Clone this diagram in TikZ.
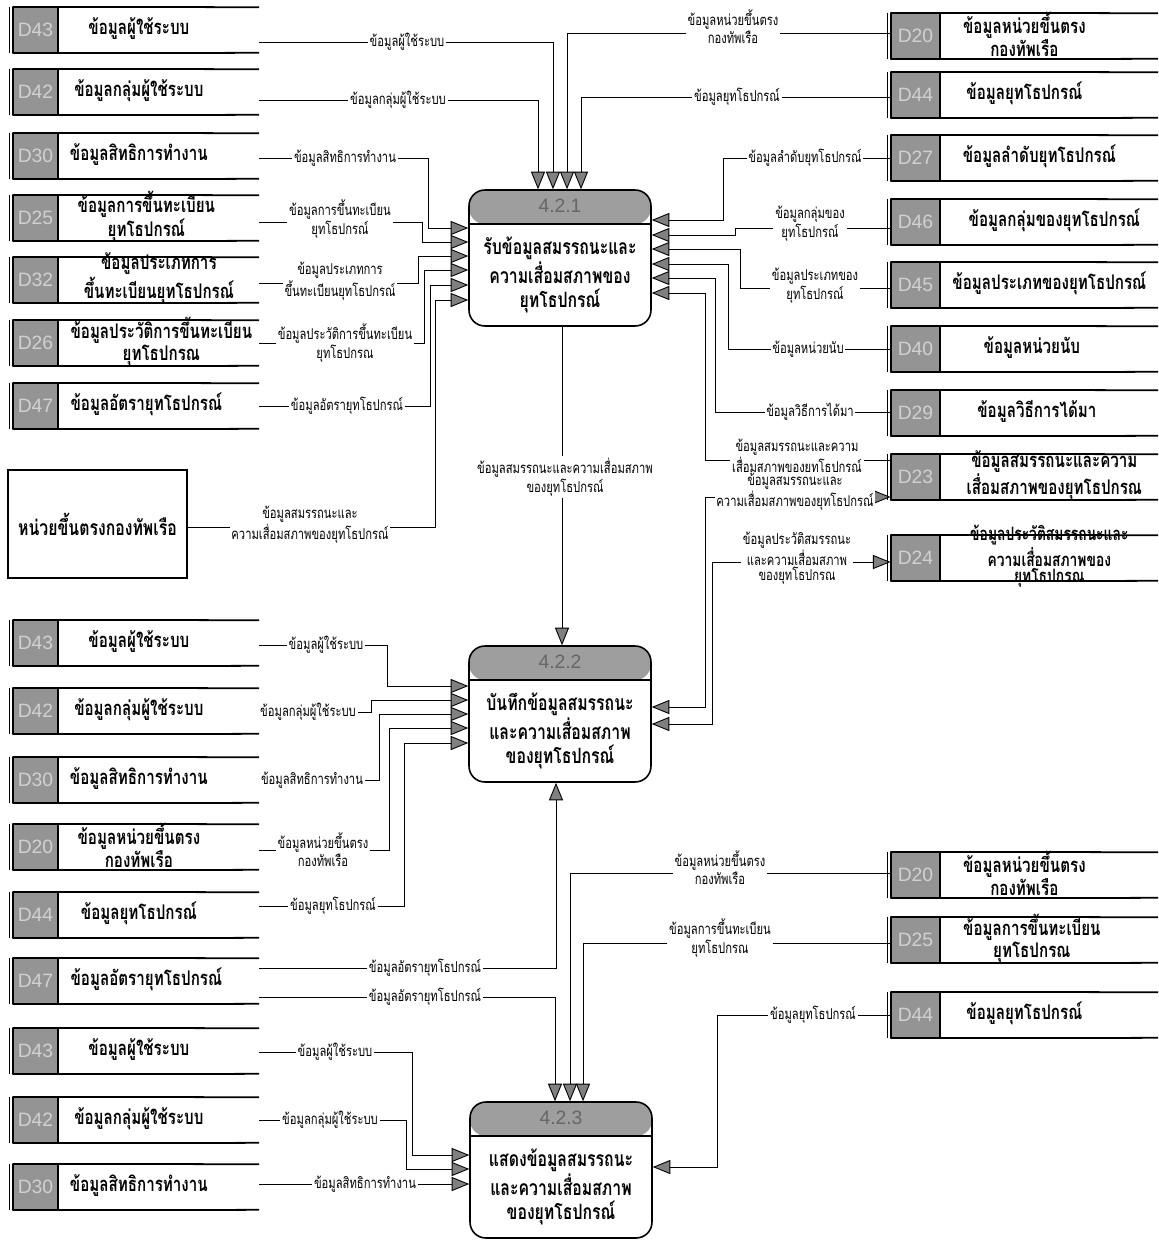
\documentclass[tikz,border=0pt]{standalone}
\usepackage{fontspec}
\setsansfont{Liberation Sans}
\newfontfamily\thaifont[Script=Thai,FakeStretch=0.75]{Loma}
\usetikzlibrary{positioning,calc,arrows.meta}

\tikzset{
  sid/.style={draw, line width=0.6pt, fill=black!42, minimum height=0.9cm, inner sep=0pt,
    font=\sffamily\fontsize{11}{11}\selectfont, text=black!18},
  sframe/.style={minimum height=0.9cm, inner sep=0pt},
  stext/.style={font=\thaifont\bfseries\fontsize{11.5}{9.5}\selectfont, align=center, inner sep=0pt, yshift=1pt},
  flab/.style={fill=white, inner sep=1pt, align=center, font=\thaifont\fontsize{8.5}{8.5}\selectfont},
  >={Triangle[length=10pt,width=8pt,fill=black!50]},
  flow/.style={draw, line width=0.5pt, ->},
  dflow/.style={draw, line width=0.5pt, <->},
  proc/.style={draw, line width=0.9pt, rounded corners=9pt, minimum width=3.64cm, minimum height=2.72cm,
    path picture={
      \fill[black!38] (path picture bounding box.north west) rectangle ([yshift=-0.68cm]path picture bounding box.north east);
      \draw[line width=0.9pt] ([yshift=-0.68cm]path picture bounding box.north west) -- ([yshift=-0.68cm]path picture bounding box.north east);}},
  pnum/.style={font=\sffamily\fontsize{11}{11}\selectfont, text=black!60},
  ptext/.style={font=\thaifont\bfseries\fontsize{12}{14}\selectfont, align=center},
  entity/.style={draw, line width=1pt, minimum width=3.58cm, minimum height=2.16cm,
    font=\thaifont\bfseries\fontsize{12}{14}\selectfont}
}

% data store: name, id centre, id width, frame width, id, text, text options
\newcommand{\dstore}[7]{%
  \node[sid, minimum width=#3] (#1i) at (#2) {#5};
  \node[sframe, minimum width=#4, right=0pt of #1i] (#1) {};
  \node[stext, #7] (#1t) at (#1.center) {#6};
  \draw[line width=1pt] (#1i.north west) -- (#1.north east) (#1i.south west) -- (#1.south east);
  \draw[line width=0.5pt] ([xshift=-2pt]#1i.north west) -- ([xshift=-2pt]#1i.south west);
}
\newcommand{\lstore}[5][xshift=-0.4cm]{\dstore{#2}{#3}{0.9cm}{4cm}{#4}{#5}{#1}}
\newcommand{\rstore}[5][xshift=-0.4cm]{\dstore{#2}{#3}{0.98cm}{4.34cm}{#4}{#5}{#1}}

% process: name, centre, number, text
\newcommand{\dfdproc}[4]{%
  \node[proc] (#1) at (#2) {};
  \node[pnum] (#1n) at ([yshift=-0.34cm]#1.north) {#3};
  \node[ptext] (#1t) at ([yshift=-0.34cm]#1.center) {#4};
}

\begin{document}
\begin{tikzpicture}[x=0.02cm, y=-0.02cm]
\useasboundingbox (0,0) rectangle (1159,1242);

% stores left, upper group
\lstore{a43}{35.5,30}{D43}{ข้อมูลผู้ใช้ระบบ}
\lstore{a42}{35.5,92}{D42}{ข้อมูลกลุ่มผู้ใช้ระบบ}
\lstore{a30}{35.5,156}{D30}{ข้อมูลสิทธิการทำงาน}
\lstore[xshift=-0.25cm]{a25}{35.5,218}{D25}{ข้อมูลการขึ้นทะเบียน\\ยุทโธปกรณ์}
\lstore[xshift=0cm]{a32}{35.5,280}{D32}{ข้อมูลประเภทการ\\ขึ้นทะเบียนยุทโธปกรณ์}
\lstore[xshift=0.05cm]{a26}{35.5,343}{D26}{ข้อมูลประวัติการขึ้นทะเบียน\\ยุทโธปกรณ}
\lstore[xshift=-0.25cm]{a47}{35.5,406}{D47}{ข้อมูลอัตรายุทโธปกรณ์}

\node[entity] (ent) at (97.5,524) {หน่วยขึ้นตรงกองทัพเรือ};

% stores right, upper group
\rstore[xshift=-0.5cm]{b20}{915.5,36}{D20}{ข้อมูลหน่วยขึ้นตรง\\กองทัพเรือ}
\rstore[xshift=-0.5cm]{b44}{915.5,95}{D44}{ข้อมูลยุทโธปกรณ์}
\rstore[xshift=-0.2cm]{b27}{915.5,158}{D27}{ข้อมูลลำดับยุทโธปกรณ์}
\rstore[xshift=0.1cm]{b46}{915.5,222}{D46}{ข้อมูลกลุ่มของยุทโธปกรณ์}
\rstore[xshift=0cm]{b45}{915.5,285}{D45}{ข้อมูลประเภทของยุทโธปกรณ์}
\rstore[xshift=-0.35cm]{b40}{915.5,349}{D40}{ข้อมูลหน่วยนับ}
\rstore[xshift=-0.25cm]{b29}{915.5,413}{D29}{ข้อมูลวิธีการได้มา}
\rstore[xshift=0.1cm]{b23}{915.5,477}{D23}{ข้อมูลสมรรถนะและความ\\เสื่อมสภาพของยุทโธปกรณ}
\rstore[font=\thaifont\bfseries\fontsize{10.5}{8}\selectfont]{b24}{915.5,558}{D24}{ข้อมูลประวัติสมรรถนะและ\\ความเสื่อมสภาพของ\\ยุทโธปกรณ}

% stores left, lower group
\lstore{c43}{35.5,643}{D43}{ข้อมูลผู้ใช้ระบบ}
\lstore{c42}{35.5,711}{D42}{ข้อมูลกลุ่มผู้ใช้ระบบ}
\lstore{c30}{35.5,780}{D30}{ข้อมูลสิทธิการทำงาน}
\lstore{c20}{35.5,847}{D20}{ข้อมูลหน่วยขึ้นตรง\\กองทัพเรือ}
\lstore{c44}{35.5,915}{D44}{ข้อมูลยุทโธปกรณ์}
\lstore[xshift=-0.25cm]{c47}{35.5,981}{D47}{ข้อมูลอัตรายุทโธปกรณ์}
\lstore{d43}{35.5,1051}{D43}{ข้อมูลผู้ใช้ระบบ}
\lstore{d42}{35.5,1120}{D42}{ข้อมูลกลุ่มผู้ใช้ระบบ}
\lstore{d30}{35.5,1187}{D30}{ข้อมูลสิทธิการทำงาน}

% stores right, lower group
\rstore[xshift=-0.5cm]{e20}{915.5,875}{D20}{ข้อมูลหน่วยขึ้นตรง\\กองทัพเรือ}
\rstore[xshift=-0.35cm]{e25}{915.5,940}{D25}{ข้อมูลการขึ้นทะเบียน\\ยุทโธปกรณ}
\rstore[xshift=-0.5cm]{e44}{915.5,1015}{D44}{ข้อมูลยุทโธปกรณ์}

% processes
\dfdproc{p1}{560,258}{4.2.1}{รับข้อมูลสมรรถนะและ\\ความเสื่อมสภาพของ\\ยุทโธปกรณ์}
\dfdproc{p2}{560,714}{4.2.2}{บันทึกข้อมูลสมรรถนะ\\และความเสื่อมสภาพ\\ของยุทโธปกรณ์}
\dfdproc{p3}{561,1170}{4.2.3}{แสดงข้อมูลสมรรถนะ\\และความเสื่อมสภาพ\\ของยุทโธปกรณ์}

% ports
\foreach \i/\d in {1/-22,2/-7,3/7,4/21} \coordinate (p1n\i) at ($(p1.north)+(\d,0)$);
\foreach \i/\d in {1/-30,2/-16,3/-2,4/12,5/27,6/42} \coordinate (p1w\i) at ($(p1.west)+(0,\d)$);
\foreach \i/\d in {1/-38,2/-23,3/-9,4/6,5/20,6/35} \coordinate (p1e\i) at ($(p1.east)+(0,\d)$);
\coordinate (p1s) at ($(p1.south)+(2,0)$);
\coordinate (p2n) at ($(p2.north)+(2,0)$);
\foreach \i/\d in {1/-28,2/-14,3/0,4/14,5/29} \coordinate (p2w\i) at ($(p2.west)+(0,\d)$);
\foreach \i/\d in {1/-7,2/10} \coordinate (p2e\i) at ($(p2.east)+(0,\d)$);
\coordinate (p2s) at ($(p2.south)+(-4,0)$);
\foreach \i/\d in {1/-6,2/9,3/22} \coordinate (p3n\i) at ($(p3.north)+(\d,0)$);
\foreach \i/\d in {1/-15,2/-1,3/14} \coordinate (p3w\i) at ($(p3.west)+(0,\d)$);
\coordinate (p3e1) at ($(p3.east)+(0,-3)$);

% into 4.2.1, top
\draw[flow] ($(a43.east)+(0,12)$) -| (p1n2);
\node[flab] (f1) at (407,42) {ข้อมูลผู้ใช้ระบบ};
\draw[flow] ($(a42.east)+(0,8)$) -| (p1n1);
\node[flab] (f2) at (398,100) {ข้อมูลกลุ่มผู้ใช้ระบบ};
\draw[flow] ($(b20i.west)+(0,-3)$) -| (p1n3);
\node[flab] (f3) at (733,27) {ข้อมูลหน่วยขึ้นตรง\\กองทัพเรือ};
\draw[flow] ($(b44i.west)+(0,2)$) -| (p1n4);
\node[flab] (f4) at (737,97) {ข้อมูลยุทโธปกรณ์};

% into 4.2.1, left
\draw[flow] ($(a30.east)+(0,2)$) -| ($(p1w1)+(-40,0)$) -- (p1w1);
\node[flab] (f5) at (345,158) {ข้อมูลสิทธิการทำงาน};
\draw[flow] ($(a25.east)+(0,4)$) -| ($(p1w2)+(-46,0)$) -- (p1w2);
\node[flab] (f6) at (340,219) {ข้อมูลการขึ้นทะเบียน\\ยุทโธปกรณ์};
\draw[flow] ($(a32.east)+(0,3)$) -| ($(p1w3)+(-50,0)$) -- (p1w3);
\node[flab] (f7) at (340,281) {ข้อมูลประเภทการ\\ขึ้นทะเบียนยุทโธปกรณ์};
\draw[flow] (a26.east) -| ($(p1w4)+(-44,0)$) -- (p1w4);
\node[flab] (f8) at (345,343) {ข้อมูลประวัติการขึ้นทะเบียน\\ยุทโธปกรณ};
\draw[flow] (a47.east) -| ($(p1w5)+(-38,0)$) -- (p1w5);
\node[flab] (f9) at (347,406) {ข้อมูลอัตรายุทโธปกรณ์};
\draw[flow] ($(ent.east)+(0,3)$) -| ($(p1w6)+(-33,0)$) -- (p1w6);
\node[flab] (f10) at (310,525) {ข้อมูลสมรรถนะและ\\ความเสื่อมสภาพของยุทโธปกรณ์};

% into 4.2.1, right
\draw[flow] (b27i.west) -| ($(p1e1)+(72,0)$) -- (p1e1);
\node[flab] (f11) at (805,158) {ข้อมูลลำดับยุทโธปกรณ์};
\draw[flow] ($(b46i.west)+(0,6)$) -| ($(p1e2)+(84,0)$) -- (p1e2);
\node[flab] (f12) at (810,224) {ข้อมูลกลุ่มของ\\ยุทโธปกรณ์};
\draw[flow] ($(b45i.west)+(0,3)$) -| ($(p1e3)+(89,0)$) -- (p1e3);
\node[flab] (f13) at (815,286) {ข้อมูลประเภทของ\\ยุทโธปกรณ์};
\draw[flow] (b40i.west) -| ($(p1e4)+(77,0)$) -- (p1e4);
\node[flab] (f14) at (808,349) {ข้อมูลหน่วยนับ};
\draw[flow] ($(b29i.west)+(0,-1)$) -| ($(p1e5)+(64,0)$) -- (p1e5);
\node[flab] (f15) at (810,412) {ข้อมูลวิธีการได้มา};
\draw[flow] ($(b23i.west)+(0,-17)$) -| ($(p1e6)+(54,0)$) -- (p1e6);
\node[flab] (f16) at (797,458) {ข้อมูลสมรรถนะและความ\\เสื่อมสภาพของยุทโธปกรณ์};

% 4.2.1 to 4.2.2
\draw[flow] (p1s) -- (p2n);
\node[flab] (f17) at (565,477) {ข้อมูลสมรรถนะและความเสื่อมสภาพ\\ของยุทโธปกรณ์};

% 4.2.2 to D23 and D24
\draw[dflow] (p2e1) -- ($(p2e1)+(54,0)$) |- ($(b23i.west)+(0,20)$);
\node[flab] (f18) at (795,492) {ข้อมูลสมรรถนะและ\\ความเสื่อมสภาพของยุทโธปกรณ์};
\draw[dflow] (p2e2) -- ($(p2e2)+(61,0)$) |- ($(b24i.west)+(0,4)$);
\node[flab] (f19) at (797,558) {ข้อมูลประวัติสมรรถนะ\\และความเสื่อมสภาพ\\ของยุทโธปกรณ};

% into 4.2.2, left
\draw[flow] ($(c43.east)+(0,2)$) -| ($(p2w1)+(-81,0)$) -- (p2w1);
\node[flab] (f20) at (326,645) {ข้อมูลผู้ใช้ระบบ};
\draw[flow] ($(c42.east)+(0,1)$) -| ($(p2w2)+(-97,0)$) -- (p2w2);
\node[flab] (f21) at (308,712) {ข้อมูลกลุ่มผู้ใช้ระบบ};
\draw[flow] (c30.east) -| ($(p2w3)+(-89,0)$) -- (p2w3);
\node[flab] (f22) at (312,780) {ข้อมูลสิทธิการทำงาน};
\draw[flow] ($(c20.east)+(0,3)$) -| ($(p2w4)+(-79,0)$) -- (p2w4);
\node[flab] (f23) at (323,850) {ข้อมูลหน่วยขึ้นตรง\\กองทัพเรือ};
\draw[flow] ($(c44.east)+(0,-9)$) -| ($(p2w5)+(-64,0)$) -- (p2w5);
\node[flab] (f24) at (333,906) {ข้อมูลยุทโธปกรณ์};

% D47 to 4.2.2 and 4.2.3
\draw[flow] ($(c47.east)+(0,-13)$) -| (p2s);
\node[flab] (f25) at (425,968) {ข้อมูลอัตรายุทโธปกรณ์};
\draw[flow] ($(c47.east)+(0,16)$) -| (p3n1);
\node[flab] (f26) at (425,997) {ข้อมูลอัตรายุทโธปกรณ์};

% into 4.2.3
\draw[flow] ($(e20i.west)+(0,-2)$) -| (p3n2);
\node[flab] (f27) at (720,868) {ข้อมูลหน่วยขึ้นตรง\\กองทัพเรือ};
\draw[flow] ($(e25i.west)+(0,3)$) -| (p3n3);
\node[flab] (f28) at (720,938) {ข้อมูลการขึ้นทะเบียน\\ยุทโธปกรณ};
\draw[flow] (e44i.west) -| ($(p3e1)+(65,0)$) -- (p3e1);
\node[flab] (f29) at (813,1015) {ข้อมูลยุทโธปกรณ์};
\draw[flow] ($(d43.east)+(0,1)$) -| ($(p3w1)+(-57,0)$) -- (p3w1);
\node[flab] (f30) at (335,1052) {ข้อมูลผู้ใช้ระบบ};
\draw[flow] (d42.east) -| ($(p3w2)+(-63,0)$) -- (p3w2);
\node[flab] (f31) at (330,1120) {ข้อมูลกลุ่มผู้ใช้ระบบ};
\draw[flow] ($(d30.east)+(0,-3)$) -- (p3w3);
\node[flab] (f32) at (365,1184) {ข้อมูลสิทธิการทำงาน};
\end{tikzpicture}
\end{document}
